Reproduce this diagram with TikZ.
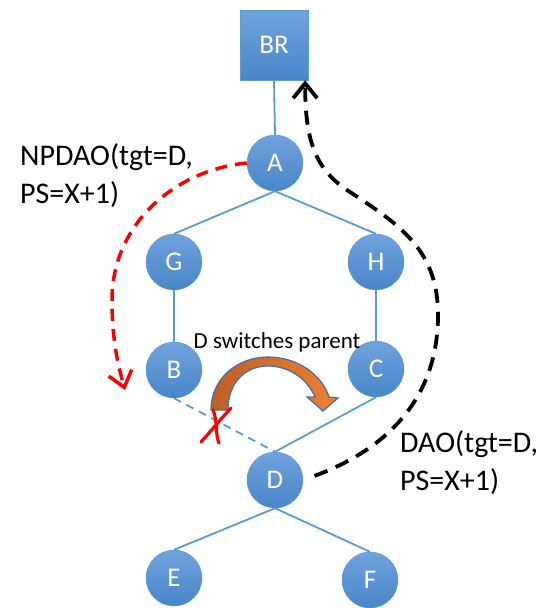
\documentclass[tikz,border=0pt]{standalone}
\usepackage{fontspec}
\setmainfont{Carlito}
\usepackage{tikz}
\usetikzlibrary{positioning,arrows,arrows.meta}
\definecolor{nodeline}{RGB}{91,155,213}
\definecolor{nodetop}{RGB}{112,162,220}
\definecolor{nodebot}{RGB}{72,134,201}
\definecolor{arrowleft}{RGB}{190,94,38}
\definecolor{arrowright}{RGB}{238,128,52}
\definecolor{arrowline}{RGB}{65,113,156}
\tikzset{
  treenode/.style = {align=center, inner sep=0pt, text centered,
    font=\fontsize{27}{32}\selectfont, text=white},
  rpl_n/.style = {treenode, circle, draw=nodeline, top color=nodetop,
    bottom color=nodebot, minimum size=56pt},% noeud
  rpl_r/.style = {treenode, rectangle, draw=nodeline, top color=nodetop,
    bottom color=nodebot, minimum width=68pt, minimum height=70pt},% racine BR
  rpl_l/.style = {nodeline, line width=1.8pt},
  msg/.style = {font=\fontsize{30}{38}\selectfont, align=left, inner sep=0pt},
  npdao/.style = {red, line width=3.5pt, dash pattern=on 12pt off 8pt,
    -{Straight Barb[length=15pt,width=24pt]}},
  dao/.style = {black, line width=3.8pt, dash pattern=on 14pt off 9pt,
    -{Straight Barb[length=15pt,width=24pt]}}
}
\begin{document}
\begin{tikzpicture}[x=1pt,y=-1pt]
\useasboundingbox (0,0) rectangle (550,608);
% noeuds
\node [rpl_r] (BR) at (274,45) {BR};
\node [rpl_n] (A) at (275,163) {A};
\node [rpl_n] (G) at (174,262) {G};
\node [rpl_n] (H) at (376,262) {H};
\node [rpl_n] (B) at (174,370) {B};
\node [rpl_n] (C) at (376,369) {C};
\node [rpl_n] (D) at (275,480) {D};
\node [rpl_n] (E) at (174,578) {E};
\node [rpl_n] (F) at (370,580) {F};
% liens
\draw [rpl_l] (BR.south) -- (A.north);
\draw [rpl_l] (A.south) -- (G.north);
\draw [rpl_l] (A.south) -- (H.north);
\draw [rpl_l] (G.south) -- (B.north);
\draw [rpl_l] (H.south) -- (C.north);
\draw [rpl_l, dash pattern=on 8pt off 6pt] (B.south) -- (D.north);
\draw [rpl_l] (C.south) -- (D.north);
\draw [rpl_l] (D.south) -- (E.north);
\draw [rpl_l] (D.south) -- (F.north);
% changement de parent
\node [msg, font=\fontsize{23}{28}\selectfont, anchor=base] (switch) at (277,348) {D switches parent};
\draw [arrowline, line width=1.2pt, left color=arrowleft, right color=arrowright]
  (211,410) .. controls (211,378) and (238,357) .. (268,357)
  .. controls (298,357) and (322,375) .. (329,397)
  -- (338,398) -- (323,411) -- (307,397) -- (315,397)
  .. controls (308,380) and (290,366) .. (268,366)
  .. controls (246,366) and (228,382) .. (228,410) -- cycle;
\draw [red, line width=3.2pt, line cap=round] (231,408) .. controls (220,420) and (210,432) .. (201,442);
\draw [red, line width=3.2pt, line cap=round] (213,410) .. controls (218,422) and (215,434) .. (219,443);
% messages
\node [msg, anchor=north west] (npdaotxt) at (20,143) {NPDAO(tgt=D,\\PS=X+1)};
\node [msg, anchor=north west] (daotxt) at (400,430) {DAO(tgt=D,\\PS=X+1)};
\coordinate (npdaoEnd) at (125,390);
\draw [npdao] (A.west) .. controls (175,170) and (112,224) .. (112,300)
  .. controls (112,340) and (118,365) .. (npdaoEnd);
\draw [dao, shorten <=12pt] (D.east) .. controls (385,450) and (438,400) .. (438,315)
  .. controls (438,250) and (400,225) .. (350,192)
  .. controls (315,170) and (305,140) .. ([xshift=-3pt]BR.south east);
\end{tikzpicture}
\end{document}
